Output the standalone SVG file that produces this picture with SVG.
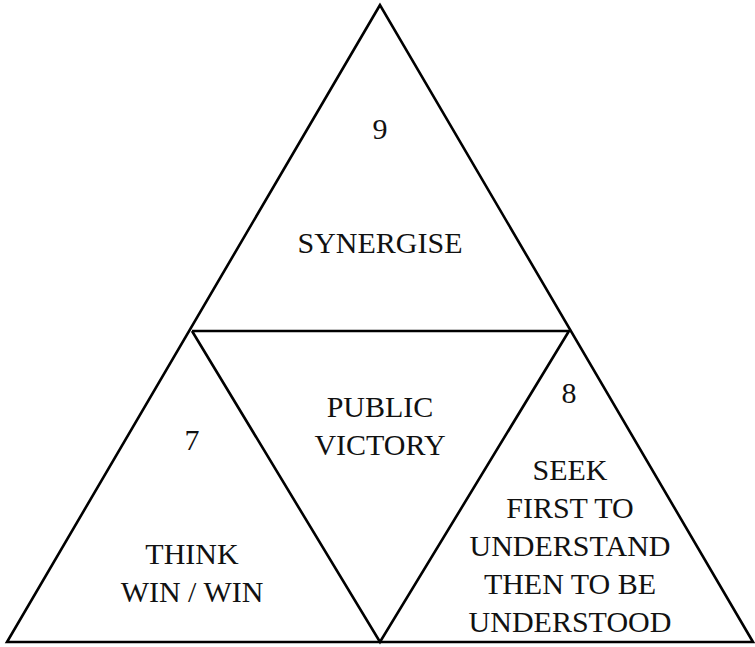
<svg xmlns="http://www.w3.org/2000/svg" width="755" height="647" viewBox="0 0 755 647">
<style>
.edge{fill:none;stroke:#000;stroke-width:2.6;stroke-linejoin:miter}
text{font-family:"Liberation Serif",serif;font-size:30px;fill:#111;text-anchor:middle}
</style>
<rect width="755" height="647" fill="#fff"/>
<g id="connectors">
<polygon class="edge" points="380,5 7,642 753,642"/>
<polyline class="edge" points="192,331 569,331 380,642 192,331"/>
</g>
<g id="top">
<text x="380" y="139" font-family="Liberation Serif">9</text>
<text x="380" y="253" font-family="Liberation Serif">SYNERGISE</text>
</g>
<g id="center">
<text x="380" y="417" font-family="Liberation Serif">PUBLIC</text>
<text x="380" y="455" font-family="Liberation Serif">VICTORY</text>
</g>
<g id="left">
<text x="192" y="450" font-family="Liberation Serif">7</text>
<text x="192" y="564" font-family="Liberation Serif">THINK</text>
<text x="192" y="602" font-family="Liberation Serif">WIN / WIN</text>
</g>
<g id="right">
<text x="569" y="403" font-family="Liberation Serif">8</text>
<text x="570" y="480" font-family="Liberation Serif">SEEK</text>
<text x="570" y="518" font-family="Liberation Serif">FIRST TO</text>
<text x="570" y="556" font-family="Liberation Serif">UNDERSTAND</text>
<text x="570" y="594" font-family="Liberation Serif">THEN TO BE</text>
<text x="570" y="632" font-family="Liberation Serif">UNDERSTOOD</text>
</g>
</svg>
